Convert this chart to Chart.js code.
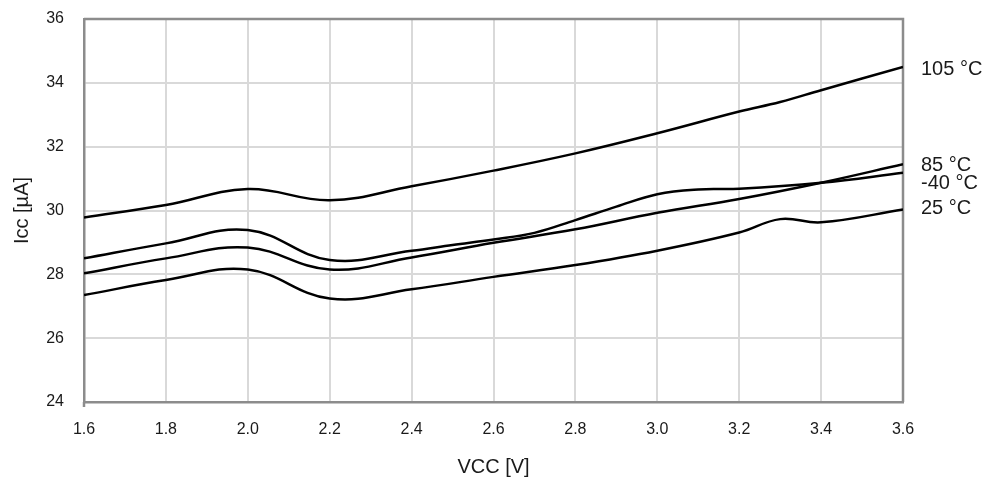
<!DOCTYPE html>
<html>
<head>
<meta charset="utf-8">
<script src="https://cdn.jsdelivr.net/npm/chart.js@4.4.1/dist/chart.umd.min.js"></script>
<style>
  html, body { margin: 0; padding: 0; background: #fff; }
  #wrap { width: 986px; height: 481px; position: relative; }
</style>
</head>
<body>
<div id="wrap"><canvas id="c"></canvas></div>
<script>
// Icc vs VCC, one curve per temperature
var seriesNames = ["105 °C", "85 °C", "-40 °C", "25 °C"];

var vcc105 = [1.6, 1.8, 2.0, 2.2, 2.4, 2.6, 2.8, 3.0, 3.2, 3.3, 3.4, 3.6];
var icc105 = [29.78, 30.17, 30.67, 30.32, 30.76, 31.25, 31.79, 32.42, 33.10, 33.40, 33.77, 34.50];

var vcc85 = [1.6, 1.8, 2.0, 2.2, 2.4, 2.6, 2.8, 3.0, 3.2, 3.4, 3.6];
var icc85 = [28.03, 28.50, 28.84, 28.15, 28.53, 28.99, 29.41, 29.93, 30.36, 30.87, 31.45];

var vccM40 = [1.6, 1.8, 2.0, 2.2, 2.4, 2.5, 2.6, 2.7, 2.8, 2.9, 3.0, 3.1, 3.2, 3.4, 3.6];
var iccM40 = [28.50, 28.97, 29.39, 28.45, 28.74, 28.92, 29.09, 29.30, 29.70, 30.12, 30.51, 30.66, 30.68, 30.87, 31.18];

var vcc25 = [1.6, 1.8, 2.0, 2.2, 2.4, 2.6, 2.8, 3.0, 3.2, 3.3, 3.4, 3.6];
var icc25 = [27.35, 27.82, 28.15, 27.24, 27.53, 27.92, 28.29, 28.74, 29.31, 29.73, 29.63, 30.03];

var xTicks = [1.6, 1.8, 2.0, 2.2, 2.4, 2.6, 2.8, 3.0, 3.2, 3.4, 3.6];
var yTicks = [24, 26, 28, 30, 32, 34, 36];

function pts(xs, ys) {
  return xs.map(function(x, i) { return { x: x, y: ys[i] }; });
}

var FONT = "'Liberation Sans', Arial, sans-serif";
var TEXT = "#1a1a1a";
var FRAME = "#8c8c8c";

// curve names written right of the plot, nudged in pixels like the original
var endLabels = {
  id: "endLabels",
  afterDatasetsDraw: function(chart, args, opts) {
    var ctx = chart.ctx;
    var ys = chart.scales.y;
    ctx.save();
    ctx.font = "20px " + FONT;
    ctx.fillStyle = TEXT;
    ctx.textAlign = "left";
    ctx.textBaseline = "middle";
    chart.data.datasets.forEach(function(ds, i) {
      var last = ds.data[ds.data.length - 1];
      ctx.fillText(ds.label, opts.x, ys.getPixelForValue(last.y) + opts.nudge[i]);
    });
    ctx.restore();
  }
};

// top and right sides of the box (axes only give left and bottom)
var frame = {
  id: "frame",
  beforeDatasetsDraw: function(chart) {
    var a = chart.chartArea, ctx = chart.ctx;
    ctx.save();
    ctx.strokeStyle = FRAME;
    ctx.lineWidth = 2.5;
    ctx.beginPath();
    ctx.moveTo(a.left, a.top);
    ctx.lineTo(a.right, a.top);
    ctx.lineTo(a.right, a.bottom);
    ctx.stroke();
    ctx.beginPath();
    ctx.moveTo(a.left, a.bottom);
    ctx.lineTo(a.left, a.bottom + 5);
    ctx.stroke();
    ctx.restore();
  }
};

var datasets = [
  { label: seriesNames[0], data: pts(vcc105, icc105) },
  { label: seriesNames[1], data: pts(vcc85, icc85) },
  { label: seriesNames[2], data: pts(vccM40, iccM40) },
  { label: seriesNames[3], data: pts(vcc25, icc25) }
].map(function(d) {
  d.borderColor = "#000";
  d.borderWidth = 2.5;
  d.pointRadius = 0;
  d.fill = false;
  d.tension = 0.4;
  return d;
});

new Chart(document.getElementById("c"), {
  type: "line",
  data: { datasets: datasets },
  plugins: [frame, endLabels],
  options: {
    responsive: true,
    maintainAspectRatio: false,
    animation: false,
    layout: { padding: { top: 19, right: 83, left: 0, bottom: 0 } },
    plugins: {
      legend: { display: false },
      tooltip: { enabled: false },
      endLabels: { x: 921, nudge: [3, 1, 11, -1] }
    },
    scales: {
      x: {
        type: "linear",
        min: 1.6, max: 3.6,
        afterBuildTicks: function(s) { s.ticks = xTicks.map(function(v) { return { value: v }; }); },
        afterFit: function(s) { s.height = 79; },
        grid: { color: "#d9d9d9", lineWidth: 2, drawTicks: false },
        border: { color: FRAME, width: 2.5 },
        ticks: {
          padding: 18,
          color: TEXT,
          font: { family: FONT, size: 16 },
          callback: function(v) { return v.toFixed(1); }
        },
        title: { display: true, text: "VCC [V]", color: TEXT, font: { family: FONT, size: 20 }, padding: { top: 0, bottom: 2 } }
      },
      y: {
        min: 24, max: 36,
        afterBuildTicks: function(s) { s.ticks = yTicks.map(function(v) { return { value: v }; }); },
        // fixed width; drop the label overhang so the plot top sits at the layout padding
        afterFit: function(s) { s.width = 84; s.paddingTop = 0; s.paddingBottom = 0; },
        grid: { color: "#d9d9d9", lineWidth: 2, drawTicks: false },
        border: { color: FRAME, width: 2.5 },
        ticks: {
          padding: 20,
          color: TEXT,
          font: { family: FONT, size: 16 }
        },
        title: { display: true, text: "Icc [µA]", color: TEXT, font: { family: FONT, size: 20 }, padding: { top: 10, bottom: 0 } }
      }
    }
  }
});
</script>
</body>
</html>
